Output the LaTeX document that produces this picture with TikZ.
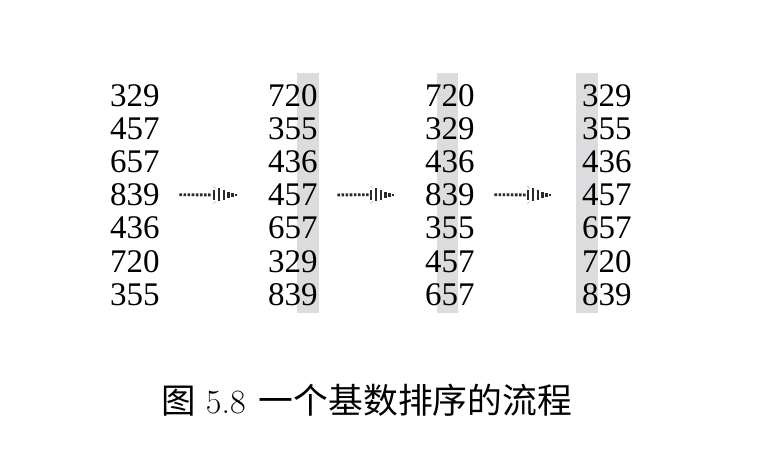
\documentclass[tikz,border=0pt]{standalone}
\usepackage{fontspec}
\usepackage{xcolor}
\usepackage{tikz}
\usetikzlibrary{calc}
\newfontfamily\cifras{Liberation Serif}
\newfontfamily\songti{Noto Sans CJK SC}
\definecolor{sombra}{HTML}{DCDCDE}
\definecolor{punto}{HTML}{2A2A2A}

% flecha punteada entre dos numeros
\newcommand{\flecha}[2]{%
  \draw[punto,line width=2.8pt,dash pattern=on 2.6pt off 1.5pt] ($(#1.east)+(19.5,0)$) -- ($(#2.west)+(-56,0)$);
  \foreach \dx/\h in {0/10,5/13,10/10,14.5/6,18.5/3.5,22/1.8}
    \draw[punto,line width=2.3pt] ($(#2.west)+(\dx-54,-\h/2)$) -- ++(0,\h);
  \draw[gray!50,line width=0.6pt] ($(#2.west)+(-55,-9)$) -- ++(3,2.5)
                                  ($(#2.west)+(-55,9)$) -- ++(3,-2.5);
}

\begin{document}
\begin{tikzpicture}[x=1pt,y=-1pt,
  num/.style={inner sep=0pt,anchor=base west,font=\cifras\fontsize{33}{33}\selectfont}]
\useasboundingbox (0,0) rectangle (761,475);
% columnas sombreadas
\foreach \x/\w in {297/22,437/21,576/22}
  \fill[sombra] (\x,73) rectangle ++(\w,240);
% numeros
\foreach \col/\x/\lista in {1/110/{329,457,657,839,436,720,355},
                            2/268/{720,355,436,457,657,329,839},
                            3/425/{720,329,436,839,355,457,657},
                            4/582/{329,355,436,457,657,720,839}}
  \foreach \n [count=\r] in \lista
    \node[num] (c\col-\r) at (\x,{106+33.2*(\r-1)}) {\n};
% flechas
\flecha{c1-4}{c2-4}
\flecha{c2-4}{c3-4}
\flecha{c3-4}{c4-4}
\node[inner sep=0pt,anchor=base west,font=\fontsize{34}{34}\selectfont] (titulo) at (161,413)
  {{\songti\fontsize{34.5}{34.5}\selectfont 图} 5.8\hspace{3pt} {\songti\fontsize{34.8}{34.8}\selectfont 一个基数排序的流程}};
\end{tikzpicture}
\end{document}
